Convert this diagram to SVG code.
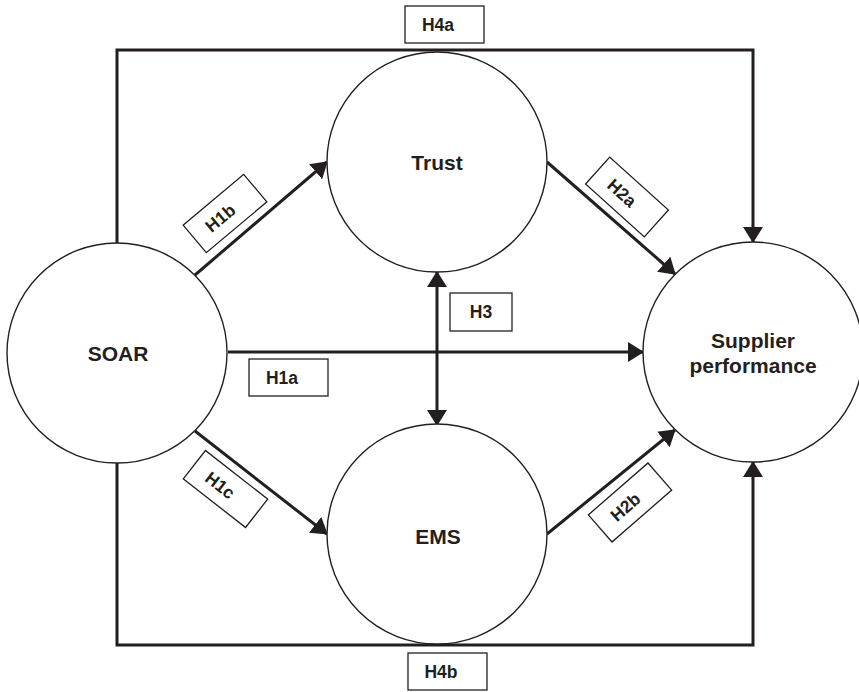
<svg xmlns="http://www.w3.org/2000/svg" width="859" height="692" viewBox="0 0 859 692">
  <style>
    .node { fill: #ffffff; stroke: #231f20; stroke-width: 1.4; }
    .name { font-family: "Liberation Sans", Arial, sans-serif; font-weight: bold; font-size: 21px; fill: #231f20; text-anchor: middle; }
    .edge { fill: none; stroke: #231f20; stroke-width: 3; stroke-linejoin: miter; }
    .tag rect { fill: #ffffff; stroke: #231f20; stroke-width: 1.3; }
    .tag text { font-family: "Liberation Sans", Arial, sans-serif; font-weight: bold; font-size: 17.5px; fill: #231f20; text-anchor: middle; }
  </style>
  <defs>
    <marker id="head" markerUnits="userSpaceOnUse" viewBox="0 0 16 20" markerWidth="16" markerHeight="20" refX="15" refY="10" orient="auto-start-reverse">
      <path d="M0,0 L16,10 L0,20 z" fill="#231f20"/>
    </marker>
  </defs>

  <rect width="859" height="692" fill="#ffffff"/>

  <!-- connectors -->
  <g id="connectors">
    <polyline class="edge" points="117,243 117,50 753,50 753,242" marker-end="url(#head)"/>
    <polyline class="edge" points="117,463 117,645 753,645 753,462" marker-end="url(#head)"/>
    <line class="edge" x1="228" y1="352" x2="643" y2="352" marker-end="url(#head)"/>
    <line class="edge" x1="195" y1="275" x2="327" y2="162" marker-end="url(#head)"/>
    <line class="edge" x1="547" y1="162" x2="675" y2="274" marker-end="url(#head)"/>
    <line class="edge" x1="195" y1="431" x2="327" y2="534" marker-end="url(#head)"/>
    <line class="edge" x1="547" y1="534" x2="675" y2="430" marker-end="url(#head)"/>
    <line class="edge" x1="437" y1="272" x2="437" y2="425" marker-start="url(#head)" marker-end="url(#head)"/>
  </g>

  <!-- constructs -->
  <g id="soar">
    <circle class="node" cx="117" cy="353" r="110"/>
    <text class="name" x="118" y="361">SOAR</text>
  </g>
  <g id="trust">
    <circle class="node" cx="437" cy="162" r="110"/>
    <text class="name" x="437" y="170">Trust</text>
  </g>
  <g id="ems">
    <circle class="node" cx="437" cy="534" r="110"/>
    <text class="name" x="438" y="544">EMS</text>
  </g>
  <g id="supplier-performance">
    <circle class="node" cx="753" cy="352" r="110"/>
    <text class="name" x="753" y="348">Supplier</text>
    <text class="name" x="753" y="373">performance</text>
  </g>

  <!-- hypothesis labels -->
  <g id="h4a" class="tag">
    <rect x="405" y="6" width="79" height="37"/>
    <text x="438" y="31">H4a</text>
  </g>
  <g id="h4b" class="tag">
    <rect x="408" y="653" width="79" height="37"/>
    <text x="441" y="678">H4b</text>
  </g>
  <g id="h1a" class="tag">
    <rect x="249" y="359" width="79" height="37"/>
    <text x="282" y="384">H1a</text>
  </g>
  <g id="h3" class="tag">
    <rect x="450" y="293" width="62" height="38"/>
    <text x="481" y="318">H3</text>
  </g>
  <g id="h1b" class="tag" transform="translate(225,213.5) rotate(-40)">
    <rect x="-39.5" y="-18" width="79" height="36"/>
    <text x="-6.5" y="6.5">H1b</text>
  </g>
  <g id="h2a" class="tag" transform="translate(627,197) rotate(42)">
    <rect x="-39.5" y="-18" width="79" height="36"/>
    <text x="-6.5" y="6.5">H2a</text>
  </g>
  <g id="h1c" class="tag" transform="translate(225.5,489) rotate(38)">
    <rect x="-39.5" y="-18" width="79" height="36"/>
    <text x="-6.5" y="6.5">H1c</text>
  </g>
  <g id="h2b" class="tag" transform="translate(630,502.5) rotate(-41)">
    <rect x="-39.5" y="-18" width="79" height="36"/>
    <text x="-6.5" y="6.5">H2b</text>
  </g>
</svg>
